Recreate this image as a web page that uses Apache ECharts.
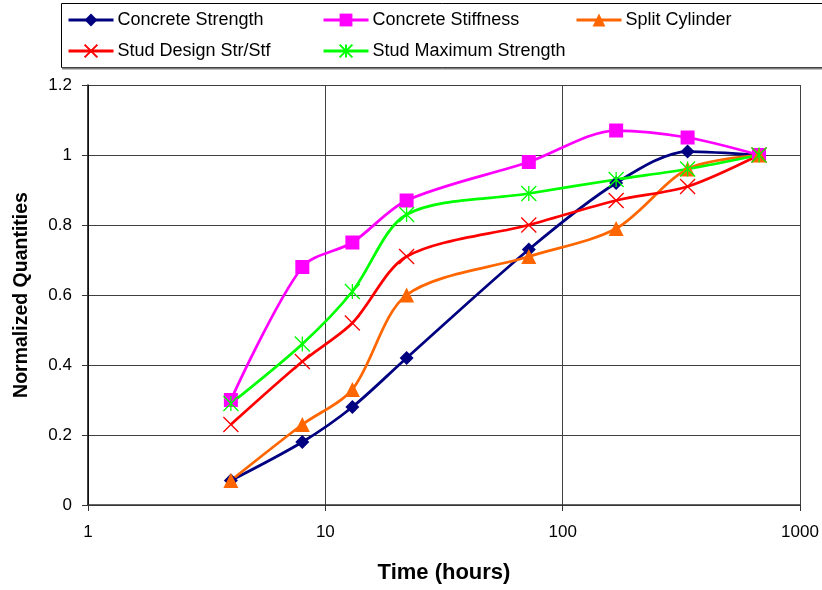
<!DOCTYPE html>
<html>
<head>
<meta charset="utf-8">
<script src="https://cdn.jsdelivr.net/npm/echarts@6/dist/echarts.min.js"></script>
<style>
  html, body { margin: 0; padding: 0; background: #fff; }
  #chart { width: 822px; height: 590px; }
</style>
</head>
<body>
<div id="chart"></div>
<script>
// Curing time of each measurement (hours)
const hours = [4, 8, 13, 22, 72, 168, 336, 672];

// Normalized test results
const concreteStrength  = [0.07, 0.18, 0.28, 0.42, 0.73, 0.92, 1.01, 1.00];
const concreteStiffness = [0.30, 0.68, 0.75, 0.87, 0.98, 1.07, 1.05, 1.00];
const splitCylinder     = [0.07, 0.23, 0.33, 0.60, 0.71, 0.79, 0.96, 1.00];
const studDesign        = [0.23, 0.41, 0.52, 0.71, 0.80, 0.87, 0.91, 1.00];
const studMaximum       = [0.29, 0.46, 0.61, 0.83, 0.89, 0.93, 0.96, 1.00];

const seriesNames = ['Concrete Strength', 'Concrete Stiffness', 'Split Cylinder',
                     'Stud Design Str/Stf', 'Stud Maximum Strength'];

const FONT = '"Liberation Sans", Arial, sans-serif';

const crossPath = 'path://M0,0L10,10M10,0L0,10';
const starPath = 'path://M0,0L10,10M10,0L0,10M5,0L5,10';

function pairs(values) {
  return hours.map((h, i) => [h, values[i]]);
}

function lineSeries(name, values, color, symbol, size, stroked) {
  return {
    name: name,
    type: 'line',
    data: pairs(values),
    smooth: 0.3,
    symbol: symbol,
    symbolSize: size,
    showAllSymbol: true,
    lineStyle: { color: color, width: 2.75 },
    itemStyle: stroked
      ? { color: color, borderColor: color, borderWidth: 1.3 }
      : { color: color, borderWidth: 0 },
    emphasis: { disabled: true },
    z: 3
  };
}

// One legend block per entry so the entries line up in columns
const legendSlots = [
  { left: 67, top: 11 },
  { left: 322, top: 11 },
  { left: 575, top: 11 },
  { left: 67, top: 42 },
  { left: 322, top: 42 }
];

const legends = seriesNames.map((name, i) => ({
  data: [name],
  left: legendSlots[i].left,
  top: legendSlots[i].top,
  padding: 0,
  itemWidth: 45,
  itemHeight: 16,
  itemGap: 0,
  selectedMode: false,
  lineStyle: { width: 3 },
  textStyle: { fontFamily: FONT, fontSize: 18, color: '#000', padding: [0, 0, 0, -1] }
}));

const chart = echarts.init(document.getElementById('chart'), null, { renderer: 'canvas' });

chart.setOption({
  animation: false,
  backgroundColor: '#fff',
  legend: legends,
  graphic: [
    {
      type: 'rect',
      shape: { x: 61.5, y: 3.5, width: 800, height: 64 },
      style: { fill: 'none', stroke: '#000', lineWidth: 1 },
      z: -1
    },
    {
      type: 'line',
      shape: { x1: 62, y1: 68.5, x2: 822, y2: 68.5 },
      style: { stroke: '#808080', lineWidth: 2 },
      z: -1
    }
  ],
  grid: { left: 88, right: 22, top: 85, bottom: 85, containLabel: false },
  xAxis: {
    type: 'log',
    logBase: 10,
    min: 1,
    max: 1000,
    name: 'Time (hours)',
    nameLocation: 'middle',
    nameGap: 57,
    nameTextStyle: { fontFamily: FONT, fontSize: 22, fontWeight: 'bold', color: '#000' },
    axisLine: { lineStyle: { color: '#333', width: 1.5 } },
    axisTick: { show: true, length: 6, lineStyle: { color: '#333' } },
    axisLabel: {
      fontFamily: FONT, fontSize: 17, color: '#000', margin: 19,
      formatter: (v) => String(Math.round(v))
    },
    splitLine: { show: true, lineStyle: { color: '#404040', width: 1 } },
    minorTick: { show: false }
  },
  yAxis: {
    type: 'value',
    min: 0,
    max: 1.2,
    interval: 0.2,
    name: 'Normalized Quantities',
    nameLocation: 'middle',
    nameGap: 56,
    nameTextStyle: { fontFamily: FONT, fontSize: 19.5, fontWeight: 'bold', color: '#000' },
    axisLine: { show: true, lineStyle: { color: '#000', width: 1.5 } },
    axisTick: { show: true, length: 6, lineStyle: { color: '#333' } },
    axisLabel: { fontFamily: FONT, fontSize: 17, color: '#000', margin: 16 },
    splitLine: { show: true, lineStyle: { color: '#404040', width: 1 } }
  },
  series: [
    lineSeries(seriesNames[0], concreteStrength, '#000080', 'diamond', 14, false),
    lineSeries(seriesNames[1], concreteStiffness, '#FF00FF', 'rect', 14, false),
    lineSeries(seriesNames[2], splitCylinder, '#FF6600', 'triangle', 15, false),
    lineSeries(seriesNames[3], studDesign, '#FF0000', crossPath, 15, true),
    lineSeries(seriesNames[4], studMaximum, '#00FF00', starPath, 15, true)
  ]
});
</script>
</body>
</html>
